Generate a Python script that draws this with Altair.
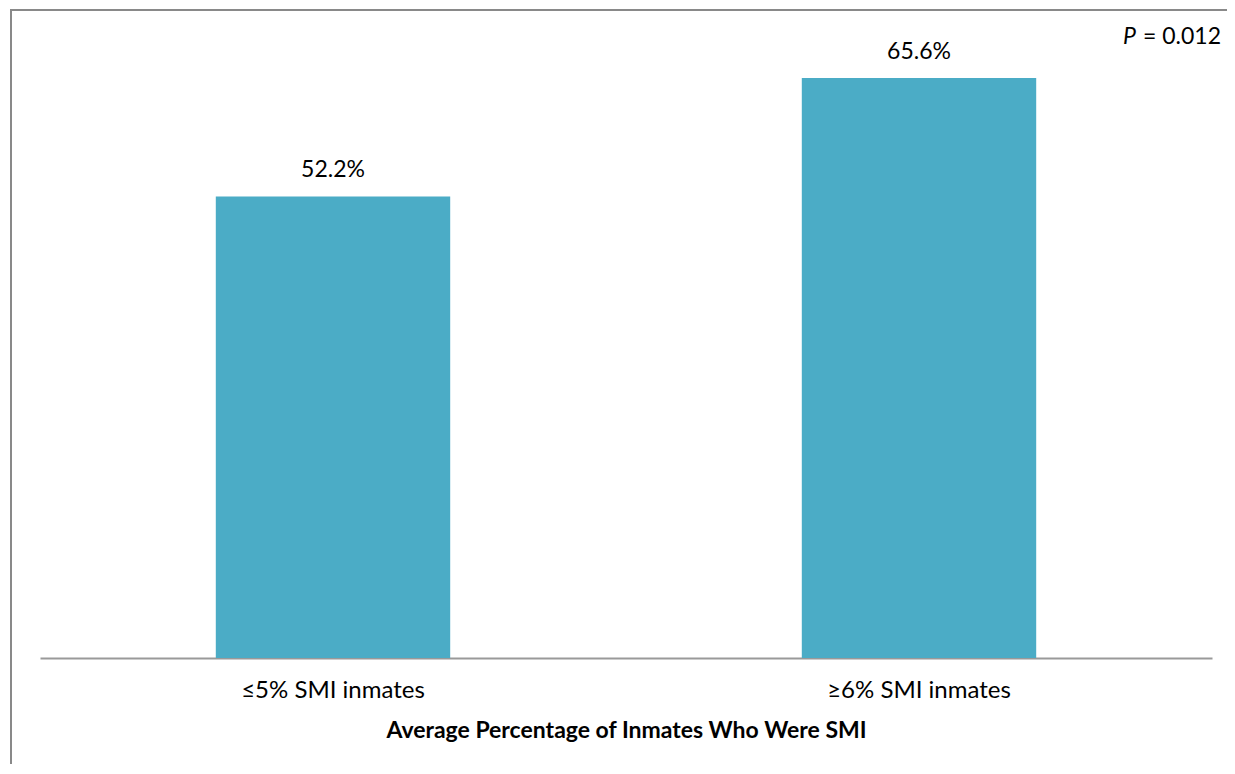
import altair as alt
import pandas as pd

categories = ["≤5% SMI inmates", "≥6% SMI inmates"]
values = [52.2, 65.6]
labels = ["52.2%", "65.6%"]
x_title = "Average Percentage of Inmates Who Were SMI"

df = pd.DataFrame({"cat": categories, "val": values, "lab": labels})

FONT = "Lato"
BAR = "#4BACC6"

x_enc = alt.X("cat:N", sort=categories,
              scale=alt.Scale(paddingInner=0.6, paddingOuter=0.3),
              axis=alt.Axis(title=x_title, labelAngle=0, ticks=False,
                            domainColor="#999999", domainWidth=2,
                            labelFont=FONT, labelFontSize=24, labelColor="#000000",
                            labelPadding=20, labelLimit=0,
                            titleFont=FONT, titleFontSize=23, titleFontWeight="bold",
                            titleColor="#000000", titlePadding=17))
y_enc = alt.Y("val:Q", scale=alt.Scale(domain=[0, 70]), axis=None)

base = alt.Chart(df)

bars = base.mark_bar(color=BAR).encode(x=x_enc, y=y_enc)

text = base.mark_text(font=FONT, fontSize=23, color="#000000",
                      baseline="middle", dy=-26).encode(
    x=alt.X("cat:N", sort=categories), y="val:Q", text="lab:N")

p_italic = alt.Chart(pd.DataFrame({"t": ["P"]})).mark_text(
    font=FONT, fontSize=23, fontStyle="italic", color="#000000",
    align="left", baseline="middle").encode(
    x=alt.value(1083), y=alt.value(-2), text="t:N")

p_rest = alt.Chart(pd.DataFrame({"t": ["= 0.012"]})).mark_text(
    font=FONT, fontSize=23, color="#000000",
    align="left", baseline="middle").encode(
    x=alt.value(1103), y=alt.value(-2), text="t:N")

frame = alt.Chart(pd.DataFrame({"a": [0]})).mark_rect(
    fill="transparent", stroke="#898989", strokeWidth=2).encode(
    x=alt.value(-29), x2=alt.value(1400), y=alt.value(-29), y2=alt.value(900))

chart = alt.layer(frame, bars, text, p_italic, p_rest).properties(
    width=1172, height=619,
    autosize=alt.AutoSizeParams(type="none"),
    padding={"left": 32, "top": 31, "right": 15, "bottom": 106},
    background="white",
).configure_view(stroke="transparent", strokeWidth=0)

chart.save("out.html", embed_options={"renderer": "svg", "actions": False})
